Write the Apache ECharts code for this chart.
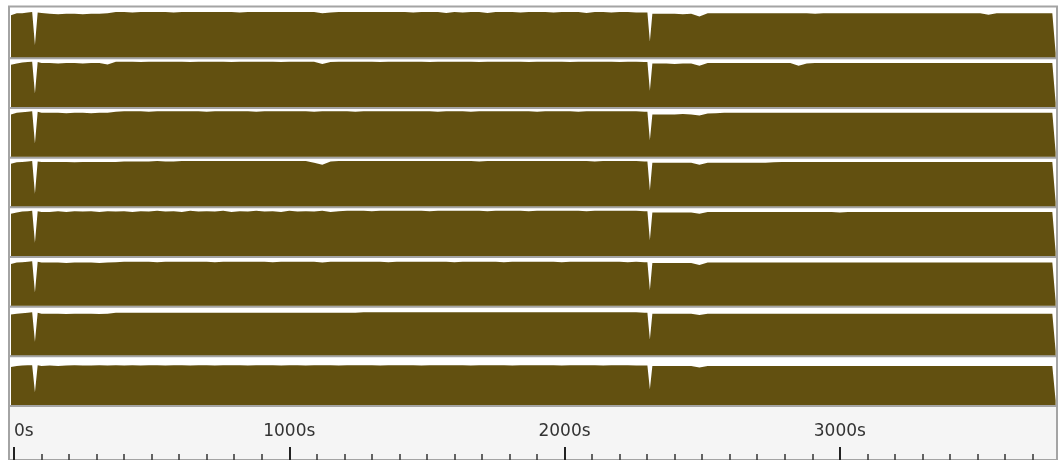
<!DOCTYPE html>
<html>
<head>
<meta charset="utf-8">
<script src="https://cdn.jsdelivr.net/npm/echarts@6/dist/echarts.min.js"></script>
<style>
  html, body { margin: 0; padding: 0; background: #ffffff; }
  #chart { width: 1064px; height: 460px; }
</style>
</head>
<body>
<div id="chart"></div>
<script>
// Sample times in seconds (shared by every CPU row)
const times = [
  -11, 10, 30, 50, 66, 76, 86, 100,
  130, 160, 190, 220, 250, 280, 310, 340, 370, 400,
  430, 460, 490, 520, 550, 580, 610, 640, 670, 700,
  730, 760, 790, 820, 850, 880, 910, 940, 970, 1000,
  1030, 1060, 1090, 1120, 1150, 1180, 1210, 1240, 1270, 1300,
  1330, 1360, 1390, 1420, 1450, 1480, 1510, 1540, 1570, 1600,
  1630, 1660, 1690, 1720, 1750, 1780, 1810, 1840, 1870, 1900,
  1930, 1960, 1990, 2020, 2050, 2080, 2110, 2140, 2170, 2200,
  2230, 2260, 2290,
  2301, 2310, 2319,
  2340, 2370, 2400, 2430, 2460, 2490, 2520, 2550, 2580, 2610,
  2640, 2670, 2700, 2730, 2760, 2790, 2820, 2850, 2880, 2910,
  2940, 2970, 3000, 3030, 3060, 3090, 3120, 3150, 3180, 3210,
  3240, 3270, 3300, 3330, 3360, 3390, 3420, 3450, 3480, 3510,
  3540, 3570, 3600, 3630, 3660, 3690, 3720, 3750,
  3772, 3784
];

// Utilisation (%) per CPU
const cpu0 = [
  93, 97, 97, 99, 100, 27, 99, 98,
  96, 95, 96, 96, 95, 96, 96, 97, 100, 100,
  99, 100, 100, 100, 100, 99, 100, 100, 100, 100,
  100, 100, 100, 99, 100, 100, 100, 100, 100, 100,
  100, 100, 100, 97, 99, 100, 100, 100, 100, 100,
  100, 100, 100, 100, 99, 100, 100, 100, 98, 100,
  99, 100, 100, 98, 100, 100, 100, 99, 100, 100,
  100, 99, 100, 100, 100, 98, 100, 100, 99, 100,
  100, 99, 99,
  99, 35, 96,
  96, 96, 96, 95, 96, 90, 97, 97, 97, 97,
  97, 97, 97, 97, 97, 97, 97, 97, 97, 96,
  97, 97, 97, 97, 97, 97, 97, 97, 97, 97,
  97, 97, 97, 97, 97, 97, 97, 97, 97, 97,
  94, 97, 97, 97, 97, 97, 97, 97,
  97, 10
];
const cpu1 = [
  93, 96, 98, 99, 100, 30, 99, 97,
  97, 96, 97, 97, 96, 97, 97, 94, 100, 100,
  100, 99, 100, 100, 100, 100, 100, 99, 100, 100,
  100, 100, 99, 100, 100, 100, 100, 100, 99, 100,
  100, 100, 100, 95, 99, 100, 100, 100, 100, 100,
  99, 100, 100, 100, 100, 100, 99, 100, 100, 100,
  100, 100, 99, 100, 100, 100, 100, 100, 99, 100,
  100, 100, 100, 99, 100, 100, 100, 100, 100, 99,
  100, 100, 99,
  99, 36, 96,
  96, 96, 95, 96, 96, 91, 97, 97, 97, 97,
  97, 97, 97, 97, 97, 97, 97, 91, 96, 97,
  97, 97, 97, 97, 97, 97, 97, 97, 97, 97,
  97, 97, 97, 97, 97, 97, 97, 97, 97, 97,
  97, 97, 97, 97, 97, 97, 97, 97,
  97, 10
];
const cpu2 = [
  93, 97, 98, 99, 100, 29, 99, 97,
  97, 97, 96, 97, 97, 96, 97, 97, 99, 100,
  100, 100, 99, 100, 100, 100, 100, 100, 100, 99,
  100, 100, 100, 100, 100, 99, 100, 100, 100, 100,
  100, 100, 99, 100, 100, 100, 100, 99, 100, 100,
  100, 100, 100, 100, 100, 100, 100, 99, 100, 100,
  100, 99, 100, 100, 100, 100, 100, 100, 100, 99,
  100, 100, 100, 100, 99, 100, 100, 100, 100, 100,
  100, 100, 99,
  99, 36, 93,
  93, 93, 93, 94, 93, 91, 95, 96, 97, 97,
  97, 97, 97, 97, 97, 97, 97, 97, 97, 97,
  97, 97, 97, 97, 97, 97, 97, 97, 97, 97,
  97, 97, 97, 97, 97, 97, 97, 97, 97, 97,
  97, 97, 97, 97, 97, 97, 97, 97,
  97, 10
];
const cpu3 = [
  94, 97, 98, 99, 100, 28, 99, 98,
  98, 98, 98, 97, 98, 98, 98, 98, 98, 99,
  99, 99, 99, 100, 99, 99, 100, 100, 100, 100,
  100, 100, 100, 100, 100, 100, 100, 100, 100, 100,
  100, 100, 96, 92, 99, 100, 100, 100, 100, 100,
  100, 100, 100, 100, 100, 100, 100, 100, 100, 100,
  100, 100, 99, 100, 100, 100, 100, 100, 100, 100,
  100, 100, 100, 100, 100, 100, 99, 100, 100, 100,
  100, 100, 99,
  99, 35, 96,
  96, 96, 96, 96, 96, 92, 96, 96, 96, 96,
  96, 96, 96, 96, 97, 98, 98, 98, 98, 98,
  98, 98, 98, 98, 98, 98, 98, 98, 98, 98,
  98, 98, 98, 98, 98, 98, 98, 98, 98, 98,
  98, 98, 98, 98, 98, 98, 98, 98,
  98, 10
];
const cpu4 = [
  93, 96, 98, 99, 100, 29, 99, 97,
  97, 99, 97, 99, 98, 99, 97, 99, 98, 99,
  97, 99, 98, 100, 98, 99, 97, 100, 98, 99,
  98, 100, 97, 99, 98, 100, 98, 99, 97, 100,
  98, 99, 98, 100, 97, 99, 100, 100, 100, 99,
  100, 100, 100, 100, 100, 100, 99, 100, 100, 100,
  100, 100, 100, 99, 100, 100, 100, 100, 99, 100,
  100, 100, 100, 100, 100, 99, 100, 100, 100, 100,
  100, 100, 99,
  99, 35, 96,
  96, 96, 96, 96, 96, 93, 97, 97, 97, 97,
  97, 97, 97, 97, 97, 97, 97, 97, 97, 97,
  97, 97, 96, 97, 97, 97, 97, 97, 97, 97,
  97, 97, 97, 97, 97, 97, 97, 97, 97, 97,
  97, 97, 97, 97, 97, 97, 97, 97,
  97, 10
];
const cpu5 = [
  92, 95, 96, 97, 98, 29, 97, 95,
  95, 95, 94, 95, 95, 95, 94, 95, 96, 97,
  97, 97, 97, 96, 97, 97, 97, 97, 97, 97,
  96, 97, 97, 97, 97, 97, 97, 96, 97, 97,
  97, 97, 97, 95, 97, 97, 97, 97, 97, 97,
  97, 96, 97, 97, 97, 97, 97, 97, 97, 96,
  97, 97, 97, 97, 97, 96, 97, 97, 97, 97,
  97, 97, 96, 97, 97, 97, 97, 97, 97, 97,
  96, 97, 96,
  96, 34, 94,
  94, 94, 94, 94, 94, 90, 95, 95, 95, 95,
  95, 95, 95, 95, 95, 95, 95, 95, 95, 95,
  95, 95, 95, 95, 95, 95, 95, 95, 95, 95,
  95, 95, 95, 95, 95, 95, 95, 95, 95, 95,
  95, 95, 95, 95, 95, 95, 95, 95,
  95, 10
];
const cpu6 = [
  90, 92, 93, 94, 95, 30, 94, 92,
  92, 92, 91, 92, 92, 92, 91, 92, 94, 94,
  94, 94, 94, 94, 94, 94, 94, 94, 94, 94,
  94, 94, 94, 94, 94, 94, 94, 94, 94, 94,
  94, 94, 94, 94, 94, 94, 94, 94, 95, 95,
  95, 95, 95, 95, 95, 95, 95, 95, 95, 95,
  95, 95, 95, 95, 95, 95, 95, 95, 95, 95,
  95, 95, 95, 95, 95, 95, 95, 95, 95, 95,
  95, 95, 94,
  94, 35, 92,
  92, 92, 92, 92, 92, 89, 92, 92, 92, 92,
  92, 92, 92, 92, 92, 92, 92, 92, 92, 92,
  92, 92, 92, 92, 92, 92, 92, 92, 92, 92,
  92, 92, 92, 92, 92, 92, 92, 92, 92, 92,
  92, 92, 92, 92, 92, 92, 92, 92,
  92, 10
];
const cpu7 = [
  84, 86, 87, 88, 88, 28, 88, 86,
  87, 86, 87, 88, 87, 87, 88, 87, 88, 87,
  88, 87, 88, 88, 87, 88, 88, 87, 88, 88,
  87, 88, 88, 88, 87, 88, 88, 88, 87, 88,
  88, 87, 88, 88, 88, 87, 88, 88, 88, 88,
  87, 88, 88, 88, 88, 87, 88, 88, 88, 88,
  88, 87, 88, 88, 88, 88, 87, 88, 88, 88,
  88, 88, 87, 88, 88, 88, 88, 87, 88, 88,
  88, 87, 87,
  87, 35, 86,
  86, 86, 86, 86, 86, 83, 86, 86, 86, 86,
  86, 86, 86, 86, 86, 86, 86, 86, 86, 86,
  86, 86, 86, 86, 86, 86, 86, 86, 86, 86,
  86, 86, 86, 86, 86, 86, 86, 86, 86, 86,
  86, 86, 86, 86, 86, 86, 86, 86,
  86, 10
];
const rows = [cpu0, cpu1, cpu2, cpu3, cpu4, cpu5, cpu6, cpu7];

// Time axis ticks (s)
const majorTicks = [0, 1000, 2000, 3000];
const minorTicks = [
  100, 200, 300, 400, 500, 600, 700, 800, 900,
  1100, 1200, 1300, 1400, 1500, 1600, 1700, 1800, 1900,
  2100, 2200, 2300, 2400, 2500, 2600, 2700, 2800, 2900,
  3100, 3200, 3300, 3400, 3500, 3600, 3700
];
const tickSuffix = 's';

// Layout
const FILL = '#625010';
const LINE = '#a4a4a4';
const T_MIN = -18.2, T_MAX = 3789;
const PX_PER_UNIT = 0.453;           // vertical pixels per % of utilisation
const firstTop = 6.5, firstBottom = 58.3, rowPitch = 49.67;

const grids = [], xAxes = [], yAxes = [], series = [];
function hiddenAxes(gridIndex) {
  xAxes.push({ gridIndex, type: 'value', show: false, min: 0, max: 1 });
  yAxes.push({ gridIndex, type: 'value', show: false, min: 0, max: 1 });
}

rows.forEach((vals, i) => {
  const top = i === 0 ? firstTop : firstBottom + rowPitch * (i - 1);
  const bottom = firstBottom + rowPitch * i;
  const h = bottom - top;
  const gi = grids.length;
  grids.push({
    left: 9, right: 7, top: top, height: h,
    show: true, backgroundColor: '#ffffff',
    borderColor: LINE, borderWidth: 2
  });
  const yMin = -1 / PX_PER_UNIT;
  xAxes.push({ gridIndex: gi, type: 'value', show: false, min: T_MIN, max: T_MAX });
  yAxes.push({ gridIndex: gi, type: 'value', show: false, min: yMin, max: yMin + h / PX_PER_UNIT });
  series.push({
    type: 'line',
    name: 'CPU ' + i,
    xAxisIndex: gi, yAxisIndex: gi,
    data: times.map((t, k) => [t, vals[k]]),
    showSymbol: false,
    silent: true,
    lineStyle: { width: 0 },
    areaStyle: { color: FILL, opacity: 1, origin: 0 }
  });
});

// time strip under the rows
const stripIndex = grids.length;
grids.push({
  left: 9, right: 7, top: firstBottom + rowPitch * 7, bottom: -20,
  show: true, backgroundColor: '#f5f5f5', borderColor: LINE, borderWidth: 2
});
hiddenAxes(stripIndex);

// major ticks + labels
const majorIndex = grids.length;
grids.push({ left: 14, right: 7, top: 406, bottom: 0 });
xAxes.push({
  gridIndex: majorIndex, type: 'value', position: 'bottom',
  min: 0, max: T_MAX,
  axisLine: { show: false },
  splitLine: { show: false },
  axisTick: {
    show: true, inside: true, length: 13, customValues: majorTicks,
    lineStyle: { color: '#222222', width: 2 }
  },
  axisLabel: {
    show: true, inside: true, margin: 20, customValues: majorTicks,
    formatter: v => v + tickSuffix,
    color: '#333333', fontFamily: 'DejaVu Sans', fontSize: 17,
    alignMinLabel: 'left', hideOverlap: false
  }
});
yAxes.push({ gridIndex: majorIndex, type: 'value', show: false, min: 0, max: 1 });

// minor ticks
const minorIndex = grids.length;
grids.push({ left: 14, right: 7, top: 406, bottom: 0 });
xAxes.push({
  gridIndex: minorIndex, type: 'value', position: 'bottom',
  min: 0, max: T_MAX,
  axisLine: { show: false },
  splitLine: { show: false },
  axisTick: {
    show: true, inside: true, length: 6, customValues: minorTicks,
    lineStyle: { color: '#333333', width: 1.5 }
  },
  axisLabel: { show: false }
});
yAxes.push({ gridIndex: minorIndex, type: 'value', show: false, min: 0, max: 1 });

const chart = echarts.init(document.getElementById('chart'), null, { renderer: 'canvas' });
chart.setOption({
  animation: false,
  backgroundColor: '#ffffff',
  grid: grids,
  xAxis: xAxes,
  yAxis: yAxes,
  series: series
});
</script>
</body>
</html>
